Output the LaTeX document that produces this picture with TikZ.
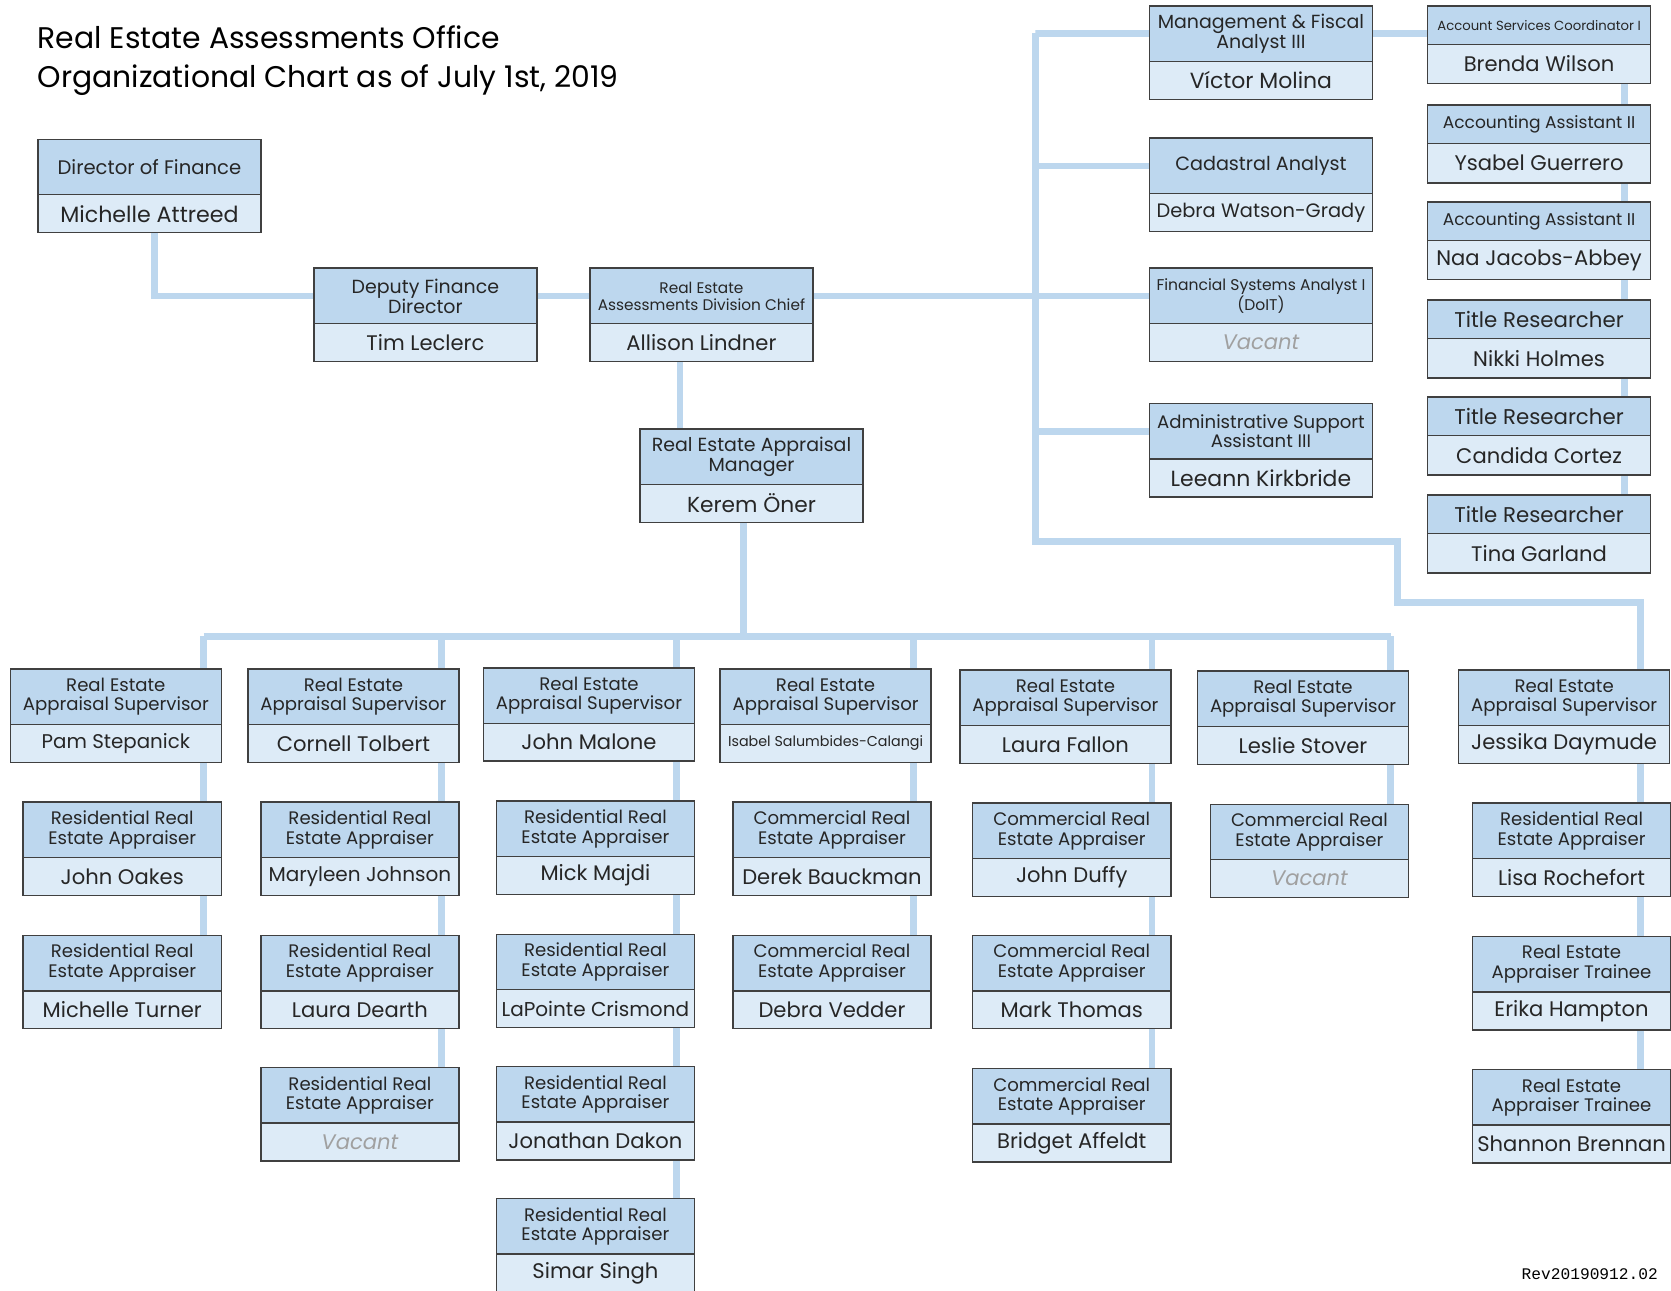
\documentclass[tikz,border=0pt]{standalone}
\usepackage{fontspec}
\setmainfont{Poppins}
\setmonofont{Liberation Mono}
\usetikzlibrary{shapes,calc,backgrounds}

\definecolor{head}{HTML}{BDD7EE}
\definecolor{body}{HTML}{DDEBF7}
\definecolor{edge}{HTML}{404040}
\definecolor{ink}{HTML}{262626}
\definecolor{vacgray}{HTML}{A0A0A0}

\newcommand{\rolefont}{\fontsize{8.5}{9.1}\selectfont}
\newcommand{\whofont}{\fontsize{9.9}{10.5}\selectfont}
\newcommand{\topfont}{\fontsize{8.9}{9.4}\selectfont}
\newcommand{\role}[1]{\parbox[c][\headh][c]{\boxw}{\centering\rolefont #1}}
\newcommand{\who}[1]{\parbox[c][\bodyh][c]{\boxw}{\centering\whofont #1}}
\newcommand{\vacant}{{\color{vacgray}\itshape Vacant}}
\newcommand{\resapp}{Residential Real\\Estate Appraiser}
\newcommand{\comapp}{Commercial Real\\Estate Appraiser}
\newcommand{\trainee}{Real Estate\\Appraiser Trainee}

\tikzset{
  box/.style={draw=edge, line width=0.7pt, text=ink, shape=rectangle split, rectangle split parts=2,
    rectangle split part fill={head,body}, inner sep=0pt, anchor=north west},
  wbox/.style={box, /utils/exec={\def\boxw{104.5pt}\def\headh{25.3pt}\def\bodyh{17.1pt}}},
  sbox/.style={box, /utils/exec={\def\boxw{99pt}\def\headh{25.3pt}\def\bodyh{17.1pt}}},
  cbox/.style={box, /utils/exec={\def\boxw{93pt}\def\headh{25.3pt}\def\bodyh{17.1pt}}},
  rbox/.style={box, /utils/exec={\def\boxw{104.5pt}\def\headh{17.3pt}\def\bodyh{17.7pt}}},
  link/.style={draw=head, line width=3.2pt}
}

\begin{document}
\begin{tikzpicture}[x=0.5pt,y=-0.5pt]
\path[use as bounding box] (0,0) rectangle (1568,1211);

\node[anchor=north west, align=left, inner sep=0pt, text=black, font=\fontsize{14}{18}\selectfont] (title) at (35,24)
  {Real Estate Assessments Office\\Organizational Chart as of July 1st, 2019};
\node[anchor=south east, inner sep=0pt, font=\ttfamily\fontsize{7.6}{8}\selectfont] (rev) at (1556,1201) {Rev20190912.02};

% chain of command
\node[wbox] (dir) at (35,130) {\role{\fontsize{9.2}{9.8}\selectfont Director of Finance}\nodepart{two}\who{\fontsize{10.4}{11}\selectfont Michelle Attreed}};
\node[wbox] (dep) at (294,251) {\role{\topfont Deputy Finance\\Director}\nodepart{two}\who{Tim Leclerc}};
\node[wbox] (chief) at (553,251) {\role{\fontsize{7.2}{8}\selectfont Real Estate\\Assessments Division Chief}\nodepart{two}\who{Allison Lindner}};
\node[wbox] (mgr) at (600,402) {\role{\topfont Real Estate Appraisal\\Manager}\nodepart{two}\who{\fontsize{10.2}{11}\selectfont Kerem Öner}};

% staff reporting to the chief
\node[wbox] (mfa) at (1078,5) {\role{\topfont Management \& Fiscal\\Analyst III}\nodepart{two}\who{\fontsize{10.3}{11}\selectfont Víctor Molina}};
\node[wbox] (cad) at (1078,129) {\role{\fontsize{9}{10}\selectfont Cadastral Analyst}\nodepart{two}\who{\fontsize{9.1}{10}\selectfont Debra Watson-Grady}};
\node[wbox] (fsa) at (1078,251) {\role{\fontsize{7.3}{8}\selectfont Financial Systems Analyst I\\(DoIT)}\nodepart{two}\who{\vacant}};
\node[wbox] (adm) at (1078,378) {\role{Administrative Support\\Assistant III}\nodepart{two}\who{\fontsize{10.3}{11}\selectfont Leeann Kirkbride}};

\foreach \n/\y/\r/\p in {
  wilson/5/{\fontsize{6.2}{7}\selectfont Account Services Coordinator I}/Brenda Wilson,
  guerrero/98/{\fontsize{8}{9}\selectfont Accounting Assistant II}/Ysabel Guerrero,
  jacobs/189/{\fontsize{8}{9}\selectfont Accounting Assistant II}/Naa Jacobs-Abbey,
  holmes/281/{\fontsize{10}{11}\selectfont Title Researcher}/Nikki Holmes,
  cortez/372/{\fontsize{10}{11}\selectfont Title Researcher}/Candida Cortez,
  garland/464/{\fontsize{10}{11}\selectfont Title Researcher}/Tina Garland}
  \node[rbox] (\n) at (1339,\y) {\role{\r}\nodepart{two}\who{\p}};

% supervisors
\foreach \n/\x/\y/\p in {
  pam/9/627/{\fontsize{9.3}{10}\selectfont Pam Stepanick}, tolbert/232/627/Cornell Tolbert, malone/453/626/John Malone,
  isabel/675/627/{\fontsize{6.7}{8}\selectfont Isabel Salumbides-Calangi}, fallon/900/628/Laura Fallon,
  stover/1123/629/Leslie Stover, jessika/1368/628/Jessika Daymude}
  \node[sbox] (\n) at (\x,\y) {\role{Real Estate\\Appraisal Supervisor}\nodepart{two}\who{\p}};

% appraisers
\foreach \n/\x/\y/\r/\p in {
  oakes/21/752/\resapp/John Oakes, turner/21/877/\resapp/Michelle Turner,
  johnson/244/752/\resapp/{\fontsize{9.4}{10}\selectfont Maryleen Johnson}, dearth/244/877/\resapp/Laura Dearth,
  vac2/244/1001/\resapp/\vacant,
  majdi/465/751/\resapp/Mick Majdi, crismond/465/876/\resapp/{\fontsize{9.4}{10}\selectfont LaPointe Crismond},
  dakon/465/1000/\resapp/Jonathan Dakon, singh/465/1124/\resapp/Simar Singh,
  bauckman/687/752/\comapp/Derek Bauckman, vedder/687/877/\comapp/Debra Vedder,
  duffy/912/753/\comapp/John Duffy, thomas/912/877/\comapp/Mark Thomas, affeldt/912/1002/\comapp/Bridget Affeldt,
  vac6/1135/754/\comapp/\vacant,
  rochefort/1381/753/\resapp/Lisa Rochefort, hampton/1381/878/\trainee/Erika Hampton,
  brennan/1381/1003/\trainee/Shannon Brennan}
  \node[cbox] (\n) at (\x,\y) {\role{\r}\nodepart{two}\who{\p}};

\begin{scope}[on background layer]
\fill[white] (0,0) rectangle (1568,1211);
\coordinate (spine) at (972,31);
\coordinate (jog) at (1311,508);
\coordinate (c0) at (698,597);
\coordinate (c7) at (1539,565);
\foreach \c/\x in {c1/191,c2/414,c3/635,c4/857,c5/1081,c6/1305}
  \coordinate (\c) at (\x,597);

\draw[link] ($(dir.south west)+(110,0)$) |- ($(dep.text split west)+(0,-26)$);
\draw[link] ($(dep.text split east)+(0,-26)$) -- ($(chief.text split west)+(0,-26)$);
\draw[link] ($(chief.text split east)+(0,-26)$) -- ($(fsa.text split west)+(0,-26)$);
\coordinate (cm) at ($(mgr.north west)+(38,0)$);
\draw[link] (cm) -- (cm |- chief.south);
\foreach \n in {mfa,cad,adm}
  \draw[link] ($(\n.text split west)+(0,-26)$) -| (spine);
\coordinate (mw) at ($(mfa.text split east)+(0,-26)$);
\draw[link] (mw) -- (mw -| wilson.west);
\draw[link] ($(wilson.south east)+(-25,0)$) -- ($(garland.north east)+(-25,0)$);
\draw[link] (spine) |- (jog) |- (c7) -- (c7 |- brennan.north);

\draw[link] (c0) -- (c0 |- mgr.south);
\draw[link] (c1) -- (c6);
\foreach \c/\last in {c1/turner,c2/vac2,c3/singh,c4/vedder,c5/affeldt,c6/vac6}
  \draw[link] (\c) -- (\c |- \last.north);
\end{scope}
\end{tikzpicture}
\end{document}
